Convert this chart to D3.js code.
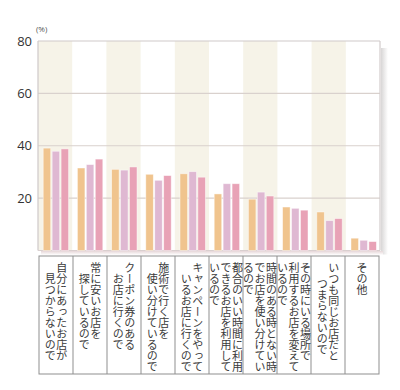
<!DOCTYPE html>
<html><head><meta charset="utf-8">
<script src="https://cdn.jsdelivr.net/npm/d3@7"></script>
<style>html,body{margin:0;padding:0;background:#fff;}svg{display:block;}</style>
</head><body>
<svg id="c" width="400" height="390"></svg>
<script>
const categories = [
  ["自分にあったお店が","　見つからないので"],
  ["常に安いお店を","　探しているので"],
  ["クーポン券のある","　お店に行くので"],
  ["施術で行く店を","　使い分けているので"],
  ["キャンペーンをやって","　いるお店に行くので"],
  ["都合のいい時間に利用","できるお店を利用して","いるので"],
  ["時間のある時とない時","でお店を使い分けてい","るので"],
  ["その時にいる場所で","利用するお店を変えて","いるので"],
  ["いつも同じお店だと","　\u2002つまらないので"],
  ["その他"]
];
const seriesNames = ["s1","s2","s3"];
const s1 = [39.1, 31.5, 31.0, 29.1, 29.3, 21.6, 19.6, 16.6, 14.7, 4.7];
const s2 = [37.9, 32.8, 30.7, 26.8, 30.1, 25.5, 22.3, 16.1, 11.4, 3.9];
const s3 = [38.8, 34.9, 31.9, 28.6, 28.0, 25.5, 20.8, 15.4, 12.2, 3.4];
const series = [s1, s2, s3];
const yTicks = [20, 40, 60, 80];
const colors = ["#f0c48e", "#dfb8d2", "#e8a2b6"];

const svg = d3.select("#c");
const L = 38, R = 380, T = 41, B = 250.5;
const idx = d3.range(categories.length);
const x = d3.scaleBand().domain(idx).range([L, R]).padding(0);
const xi = d3.scaleBand().domain(d3.range(3)).range([5.2, 30.6]).paddingInner(0.16);
const y = d3.scaleLinear().domain([0, 80]).range([B, T]);

const defs = svg.append("defs");
const g1 = defs.append("linearGradient").attr("id","sh").attr("x1",0).attr("x2",1).attr("y1",0).attr("y2",0);
g1.append("stop").attr("offset",0).attr("stop-color","#d8d6d6");
g1.append("stop").attr("offset",1).attr("stop-color","#ffffff");
const g2 = defs.append("linearGradient").attr("id","shb").attr("x1",0).attr("x2",0).attr("y1",0).attr("y2",1);
g2.append("stop").attr("offset",0).attr("stop-color","#e6d6d8");
g2.append("stop").attr("offset",1).attr("stop-color","#ffffff");

// shadows
svg.append("rect").attr("x", R + 1).attr("y", T + 7).attr("width", 7).attr("height", B - T - 3).attr("fill", "url(#sh)");
svg.append("rect").attr("x", L + 3).attr("y", B + 0.5).attr("width", R - L).attr("height", 4).attr("fill", "url(#shb)");

// stripes
svg.append("g").selectAll("rect").data(idx.filter(i => i % 2 === 0)).join("rect")
  .attr("x", i => x(i)).attr("y", T).attr("width", x.bandwidth()).attr("height", B - T)
  .attr("fill", "#f6f3e8");

// grid
svg.append("g").selectAll("line").data(yTicks).join("line")
  .attr("x1", L).attr("x2", R).attr("y1", d => y(d)).attr("y2", d => y(d))
  .attr("stroke", d => d === 80 ? "#cfc9c9" : "#d9d1cd").attr("stroke-width", 1.2);

// frame
svg.append("line").attr("x1", L).attr("x2", L).attr("y1", T).attr("y2", B).attr("stroke", "#cfc9c9").attr("stroke-width", 1.2);
svg.append("line").attr("x1", R).attr("x2", R).attr("y1", T).attr("y2", B).attr("stroke", "#d2cccc").attr("stroke-width", 1.2);
svg.append("line").attr("x1", L).attr("x2", R).attr("y1", B).attr("y2", B).attr("stroke", "#d9cfcf").attr("stroke-width", 1);

// bars
const gb = svg.append("g").selectAll("g").data(idx).join("g").attr("transform", i => `translate(${x(i)},0)`);
gb.selectAll("rect").data(i => series.map((s, k) => ({k, v: s[i]}))).join("rect")
  .attr("x", d => xi(d.k)).attr("width", xi.bandwidth())
  .attr("y", d => y(d.v)).attr("height", d => B - y(d.v))
  .attr("fill", d => colors[d.k])
  .attr("stroke", "rgba(255,255,255,0.55)").attr("stroke-width", 0.8);

// y axis labels
svg.append("g").selectAll("text").data(yTicks).join("text")
  .attr("x", 32).attr("y", d => y(d)).attr("dy", "0.36em").attr("text-anchor", "end")
  .attr("font-family", "Open Sans, sans-serif").attr("font-size", 13).attr("fill", "#333")
  .text(d => d);
svg.append("text").attr("x", 36).attr("y", 32).attr("font-family", "Open Sans, sans-serif")
  .attr("font-size", 8).attr("fill", "#555").text("(%)");

// label boxes
const bx0 = 39, bx1 = 379, by0 = 256, by1 = 374;
const bw = (bx1 - bx0) / categories.length;
svg.append("rect").attr("x", bx0).attr("y", by0).attr("width", bx1 - bx0).attr("height", by1 - by0)
  .attr("fill", "none").attr("stroke", "#8f8f8f").attr("stroke-width", 1);
svg.append("g").selectAll("line").data(d3.range(1, categories.length)).join("line")
  .attr("x1", i => bx0 + i * bw).attr("x2", i => bx0 + i * bw).attr("y1", by0).attr("y2", by1)
  .attr("stroke", "#8f8f8f").attr("stroke-width", 1);

const colGap = 11.5;
const lg = svg.append("g").selectAll("g").data(idx).join("g");
lg.each(function(i) {
  const lines = categories[i];
  const n = lines.length;
  const cx = bx0 + i * bw + bw / 2;
  d3.select(this).selectAll("text").data(lines).join("text")
    .attr("x", (d, j) => cx + ((n - 1) / 2 - j) * colGap)
    .attr("y", 262)
    .style("writing-mode", "vertical-rl")
    .attr("font-family", "Noto Sans CJK JP, sans-serif")
    .attr("font-size", 11).attr("fill", "#3a3a3a")
    .text(d => d);
});
</script>
</body></html>
